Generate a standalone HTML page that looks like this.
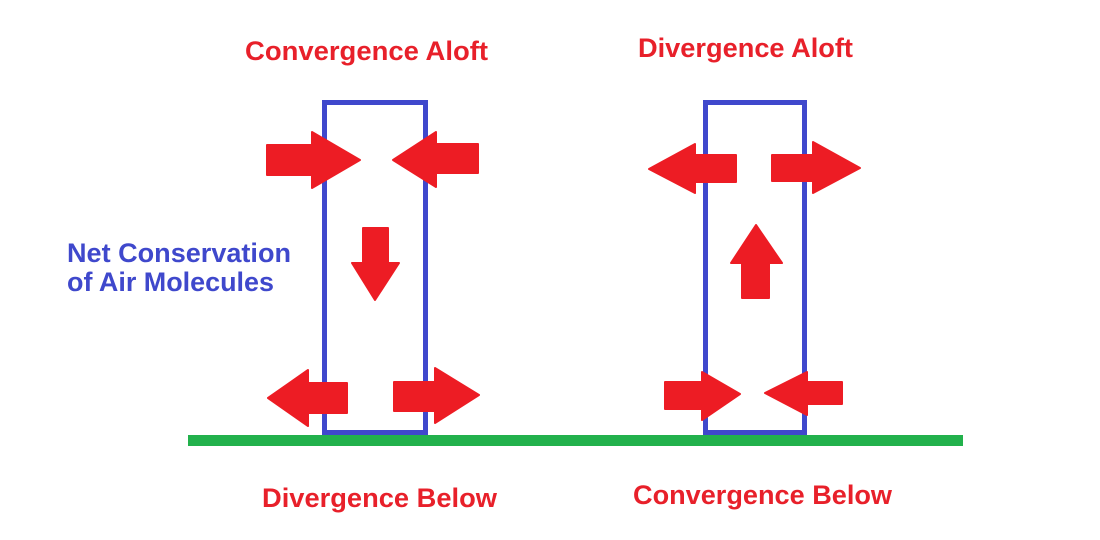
<!DOCTYPE html>
<html>
<head>
<meta charset="utf-8">
<style>
  html, body { margin: 0; padding: 0; background: #ffffff; }
  body { width: 1100px; height: 540px; overflow: hidden; }
  svg { display: block; }
  text { font-family: "Liberation Sans", Arial, sans-serif; font-weight: bold; font-size: 27px; }
</style>
</head>
<body>
<svg width="1100" height="540" viewBox="0 0 1100 540" xmlns="http://www.w3.org/2000/svg">
  <rect x="0" y="0" width="1100" height="540" fill="#ffffff"/>

  <!-- Labels -->
  <text x="245" y="60" fill="#E8202A" textLength="243" lengthAdjust="spacingAndGlyphs">Convergence Aloft</text>
  <text x="638" y="57" fill="#E8202A" textLength="215" lengthAdjust="spacingAndGlyphs">Divergence Aloft</text>
  <text x="67" y="262" fill="#3F48CC" textLength="224" lengthAdjust="spacingAndGlyphs">Net Conservation</text>
  <text x="67" y="291" fill="#3F48CC" textLength="207" lengthAdjust="spacingAndGlyphs">of Air Molecules</text>
  <text x="262" y="507" fill="#E8202A" textLength="235" lengthAdjust="spacingAndGlyphs">Divergence Below</text>
  <text x="633" y="504" fill="#E8202A" textLength="259" lengthAdjust="spacingAndGlyphs">Convergence Below</text>

  <!-- Boxes -->
  <rect x="324.5" y="102.5" width="101" height="330" fill="none" stroke="#3F48CC" stroke-width="5"/>
  <rect x="705.5" y="102.5" width="99" height="330" fill="none" stroke="#3F48CC" stroke-width="5"/>

  <!-- Ground line -->
  <rect x="188" y="435" width="775" height="11" fill="#22B14C"/>

  <!-- Arrows -->
  <g fill="#ED1C24" stroke="#ED1C24" stroke-width="2" stroke-linejoin="round">
    <!-- Left box -->
    <polygon points="267,145 312,145 312,132 360,160 312,188 312,175 267,175"/>
    <polygon points="478,144 436,144 436,132 393,160 436,187 436,173 478,173"/>
    <polygon points="363,228 388,228 388,263 399,263 375,300 352,263 363,263"/>
    <polygon points="347,383 308,383 308,370 268,398 308,426 308,413 347,413"/>
    <polygon points="394,382 435,382 435,368 479,395 435,423 435,411 394,411"/>
    <!-- Right box -->
    <polygon points="736,155 695,155 695,144 649,169 695,193 695,182 736,182"/>
    <polygon points="772,155 813,155 813,142 860,168 813,193 813,181 772,181"/>
    <polygon points="742,298 742,263 731,263 756,225 782,263 769,263 769,298"/>
    <polygon points="665,382 702,382 702,372 740,394 702,420 702,409 665,409"/>
    <polygon points="842,382 807,382 807,372 765,393 807,415 807,404 842,404"/>
  </g>
</svg>
</body>
</html>
